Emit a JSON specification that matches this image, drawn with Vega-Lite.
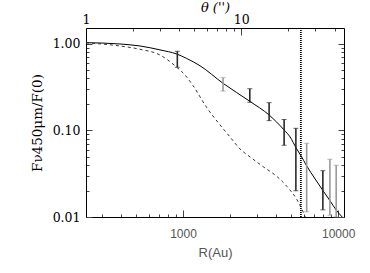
{
  "$schema": "https://vega.github.io/schema/vega-lite/v6.json",
  "width": 258,
  "height": 189,
  "autosize": "none",
  "padding": {"left": 86, "top": 28, "right": 26, "bottom": 56},
  "background": "white",
  "config": {
    "view": {"stroke": null},
    "axisLeft": {
      "grid": false,
      "labelOverlap": false, "labelFlush": false,
      "labelPadding": 12,
      "labelFont": "DejaVu Serif", "labelFontSize": 12.5, "labelColor": "#000",
      "titleFont": "DejaVu Serif", "titleFontSize": 13.5, "titleFontWeight": "normal", "titleColor": "#000",
      "titlePadding": 8, "domainColor": "#000", "tickColor": "#444"
    }
  },
  "datasets": {
    "solid": [
      {"R": 237, "v": 1.035}, {"R": 392, "v": 1.0}, {"R": 528, "v": 0.948}, {"R": 710, "v": 0.855},
      {"R": 911, "v": 0.765}, {"R": 1056, "v": 0.68}, {"R": 1287, "v": 0.56}, {"R": 1811, "v": 0.351},
      {"R": 2706, "v": 0.2164}, {"R": 3588, "v": 0.151}, {"R": 4483, "v": 0.1013}, {"R": 4901, "v": 0.0841},
      {"R": 5358, "v": 0.0628}, {"R": 5772, "v": 0.0507}, {"R": 6217, "v": 0.0399}, {"R": 7105, "v": 0.0275},
      {"R": 8006, "v": 0.02}, {"R": 8880, "v": 0.0153}, {"R": 9707, "v": 0.01205}, {"R": 10612, "v": 0.01}
    ],
    "dashed": [
      {"R": 237, "v": 1.03}, {"R": 392, "v": 0.948}, {"R": 528, "v": 0.868}, {"R": 710, "v": 0.746},
      {"R": 915, "v": 0.535}, {"R": 1030, "v": 0.438}, {"R": 1160, "v": 0.33}, {"R": 1428, "v": 0.182},
      {"R": 1733, "v": 0.1158}, {"R": 2010, "v": 0.0841}, {"R": 2332, "v": 0.0611}, {"R": 2706, "v": 0.0494},
      {"R": 3282, "v": 0.0382}, {"R": 4042, "v": 0.0292}, {"R": 4688, "v": 0.0224}, {"R": 5440, "v": 0.0157},
      {"R": 5946, "v": 0.0114}, {"R": 6126, "v": 0.01}
    ],
    "bars": [
      {"R": 919, "v": 0.538, "v2": 0.823, "set": "dark"},
      {"R": 1811, "v": 0.286, "v2": 0.408, "set": "light"},
      {"R": 2694, "v": 0.212, "v2": 0.304, "set": "dark"},
      {"R": 3588, "v": 0.130, "v2": 0.2097, "set": "dark"},
      {"R": 4483, "v": 0.0675, "v2": 0.134, "set": "dark"},
      {"R": 5336, "v": 0.0201, "v2": 0.106, "set": "dark"},
      {"R": 6263, "v": 0.0115, "v2": 0.0711, "set": "light"},
      {"R": 7965, "v": 0.0121, "v2": 0.0343, "set": "dark"},
      {"R": 8841, "v": 0.0105, "v2": 0.0465, "set": "light"},
      {"R": 9707, "v": 0.0100, "v2": 0.0396, "set": "light"}
    ],
    "marker": [{"R": 5746}],
    "aux": [{"theta": 24.3, "v": 0.05}]
  },
  "layer": [
    {
      "encoding": {
        "x": {
          "field": "R", "type": "quantitative",
          "scale": {"type": "log", "domain": [237, 10900], "nice": false},
          "axis": {
            "orient": "bottom", "title": "R(Au)", "grid": false,
            "values": [300, 400, 500, 600, 700, 800, 900, 1000, 2000, 3000, 4000, 5000, 6000, 7000, 8000, 9000, 10000],
            "labelExpr": "(datum.value == 1000 || datum.value == 10000) ? format(datum.value, 'd') : ''",
            "labelOverlap": false, "labelFlush": false,
            "tickSize": {"condition": {"test": "datum.value == 1000 || datum.value == 10000", "value": -7}, "value": -3},
            "labelPadding": 18,
            "labelFont": "Liberation Sans", "labelFontSize": 12, "labelColor": "#555",
            "titleFont": "Liberation Sans", "titleFontSize": 13, "titleFontWeight": "normal", "titleColor": "#555",
            "titlePadding": 3, "domainColor": "#000", "tickColor": "#444"
          }
        }
      },
      "layer": [
        {
          "data": {"name": "solid"},
          "mark": {"type": "line", "color": "#000", "strokeWidth": 1, "interpolate": "monotone", "clip": true},
          "encoding": {
            "y": {
              "field": "v", "type": "quantitative", "title": "Fν450μm/F(0)",
              "scale": {"type": "log", "domain": [0.01, 1.53], "nice": false},
              "axis": {
                "orient": "left", "title": "Fν450μm/F(0)",
                "values": [0.01, 0.02, 0.03, 0.04, 0.05, 0.06, 0.07, 0.08, 0.09, 0.1, 0.2, 0.3, 0.4, 0.5, 0.6, 0.7, 0.8, 0.9, 1],
                "labelExpr": "(datum.value == 1 || datum.value == 0.1 || datum.value == 0.01) ? format(datum.value, '.2f') : ''",
                "tickSize": {"condition": {"test": "datum.value == 1 || datum.value == 0.1 || datum.value == 0.01", "value": -6}, "value": -3}
              }
            }
          }
        },
        {
          "data": {"name": "dashed"},
          "mark": {"type": "line", "color": "#333", "strokeWidth": 1, "strokeDash": [3, 3], "interpolate": "monotone", "clip": true},
          "encoding": {
            "y": {
              "field": "v", "type": "quantitative", "title": "Fν450μm/F(0)",
              "scale": {"type": "log", "domain": [0.01, 1.53], "nice": false},
              "axis": {
                "orient": "left", "title": "Fν450μm/F(0)",
                "values": [0.01, 0.02, 0.03, 0.04, 0.05, 0.06, 0.07, 0.08, 0.09, 0.1, 0.2, 0.3, 0.4, 0.5, 0.6, 0.7, 0.8, 0.9, 1],
                "labelExpr": "(datum.value == 1 || datum.value == 0.1 || datum.value == 0.01) ? format(datum.value, '.2f') : ''",
                "tickSize": {"condition": {"test": "datum.value == 1 || datum.value == 0.1 || datum.value == 0.01", "value": -6}, "value": -3}
              }
            }
          }
        },
        {
          "data": {"name": "bars"},
          "mark": {"type": "rule", "strokeWidth": 1.6},
          "encoding": {
            "y": {
              "field": "v", "type": "quantitative", "title": "Fν450μm/F(0)",
              "scale": {"type": "log", "domain": [0.01, 1.53], "nice": false},
              "axis": {
                "orient": "left", "title": "Fν450μm/F(0)",
                "values": [0.01, 0.02, 0.03, 0.04, 0.05, 0.06, 0.07, 0.08, 0.09, 0.1, 0.2, 0.3, 0.4, 0.5, 0.6, 0.7, 0.8, 0.9, 1],
                "labelExpr": "(datum.value == 1 || datum.value == 0.1 || datum.value == 0.01) ? format(datum.value, '.2f') : ''",
                "tickSize": {"condition": {"test": "datum.value == 1 || datum.value == 0.1 || datum.value == 0.01", "value": -6}, "value": -3}
              }
            },
            "y2": {"field": "v2"},
            "color": {"field": "set", "type": "nominal", "scale": {"domain": ["dark", "light"], "range": ["#2a2a2a", "#9a9a9a"]}, "legend": null}
          }
        },
        {
          "data": {"name": "bars"},
          "mark": {"type": "tick", "orient": "horizontal", "size": 5, "thickness": 1},
          "encoding": {
            "y": {
              "field": "v", "type": "quantitative", "title": "Fν450μm/F(0)",
              "scale": {"type": "log", "domain": [0.01, 1.53], "nice": false},
              "axis": {
                "orient": "left", "title": "Fν450μm/F(0)",
                "values": [0.01, 0.02, 0.03, 0.04, 0.05, 0.06, 0.07, 0.08, 0.09, 0.1, 0.2, 0.3, 0.4, 0.5, 0.6, 0.7, 0.8, 0.9, 1],
                "labelExpr": "(datum.value == 1 || datum.value == 0.1 || datum.value == 0.01) ? format(datum.value, '.2f') : ''",
                "tickSize": {"condition": {"test": "datum.value == 1 || datum.value == 0.1 || datum.value == 0.01", "value": -6}, "value": -3}
              }
            },
            "color": {"field": "set", "type": "nominal", "scale": {"domain": ["dark", "light"], "range": ["#2a2a2a", "#9a9a9a"]}, "legend": null}
          }
        },
        {
          "data": {"name": "bars"},
          "mark": {"type": "tick", "orient": "horizontal", "size": 5, "thickness": 1},
          "encoding": {
            "y": {
              "field": "v2", "type": "quantitative", "title": "Fν450μm/F(0)",
              "scale": {"type": "log", "domain": [0.01, 1.53], "nice": false},
              "axis": {
                "orient": "left", "title": "Fν450μm/F(0)",
                "values": [0.01, 0.02, 0.03, 0.04, 0.05, 0.06, 0.07, 0.08, 0.09, 0.1, 0.2, 0.3, 0.4, 0.5, 0.6, 0.7, 0.8, 0.9, 1],
                "labelExpr": "(datum.value == 1 || datum.value == 0.1 || datum.value == 0.01) ? format(datum.value, '.2f') : ''",
                "tickSize": {"condition": {"test": "datum.value == 1 || datum.value == 0.1 || datum.value == 0.01", "value": -6}, "value": -3}
              }
            },
            "color": {"field": "set", "type": "nominal", "scale": {"domain": ["dark", "light"], "range": ["#2a2a2a", "#9a9a9a"]}, "legend": null}
          }
        },
        {
          "data": {"name": "marker"},
          "mark": {"type": "rule", "color": "#000", "strokeWidth": 1.8, "strokeDash": [1, 1]},
          "encoding": {}
        }
      ]
    },
    {
      "data": {"name": "aux"},
      "mark": {"type": "point", "opacity": 0},
      "encoding": {
        "x": {
          "field": "theta", "type": "quantitative",
          "scale": {"type": "log", "domain": [1, 46], "nice": false},
          "axis": {
            "orient": "top", "title": "θ  ('')", "grid": false,
            "values": [1, 2, 3, 4, 5, 6, 7, 8, 9, 10, 20, 30, 40],
            "labelExpr": "(datum.value == 1 || datum.value == 10) ? format(datum.value, 'd') : ''",
            "labelOverlap": false, "labelFlush": false,
            "tickSize": {"condition": {"test": "datum.value == 1 || datum.value == 10", "value": -7}, "value": -3},
            "labelPadding": 9,
            "labelFont": "DejaVu Serif", "labelFontSize": 12.5, "labelColor": "#000",
            "titleFont": "DejaVu Serif", "titleFontSize": 13, "titleFontWeight": "normal", "titleFontStyle": "italic", "titleColor": "#000",
            "titlePadding": -5, "domainColor": "#000", "tickColor": "#444"
          }
        },
        "y": {
          "field": "v", "type": "quantitative",
          "scale": {"type": "log", "domain": [0.01, 1.53], "nice": false},
          "axis": {
            "orient": "right", "title": null, "labels": false, "grid": false,
            "values": [0.01, 0.02, 0.03, 0.04, 0.05, 0.06, 0.07, 0.08, 0.09, 0.1, 0.2, 0.3, 0.4, 0.5, 0.6, 0.7, 0.8, 0.9, 1],
            "tickSize": {"condition": {"test": "datum.value == 1 || datum.value == 0.1 || datum.value == 0.01", "value": -6}, "value": -3},
            "domainColor": "#000", "tickColor": "#444"
          }
        }
      }
    }
  ],
  "resolve": {"scale": {"x": "independent", "y": "independent"}}
}
